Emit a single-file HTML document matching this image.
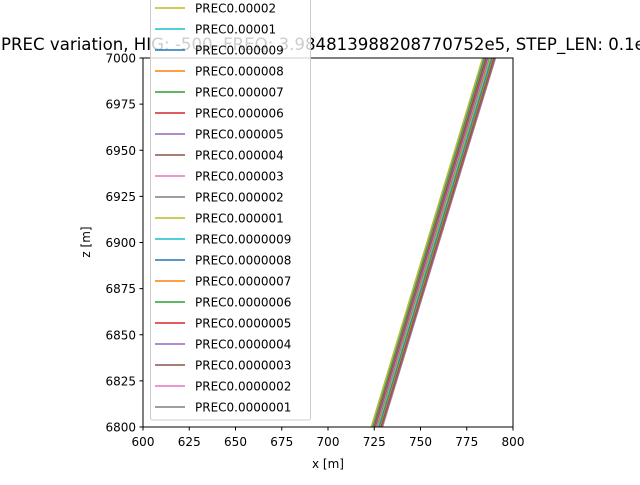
<!DOCTYPE html>
<html><head><meta charset="utf-8"><style>
body{margin:0;background:#fff;width:640px;height:480px;overflow:hidden}
svg{font-family:"DejaVu Sans","Liberation Sans",sans-serif}
</style></head><body>
<svg id="chart" width="640" height="480" viewBox="0 0 640 480" xmlns="http://www.w3.org/2000/svg">
<defs><clipPath id="pc"><rect x="143" y="58" width="370" height="369"/></clipPath></defs>
<text x="1" y="50" font-size="16.6" fill="#000">PREC variation, HIG: -500, FREQ: 3.984813988208770752e5, STEP_LEN: 0.1e</text>
<rect x="143" y="58" width="370" height="369" fill="#fff" stroke="none"/>
<g id="lines" clip-path="url(#pc)"></g>
<rect x="143" y="58" width="370" height="369" fill="none" stroke="#000" stroke-width="1"/>
<g id="xt"></g><g id="yt"></g>
<text x="328" y="468" font-size="12" text-anchor="middle">x [m]</text>
<text x="90" y="242" font-size="12" text-anchor="middle" transform="rotate(-90 90 242)">z [m]</text>
<g id="legend"></g>
</svg>
<script>
const labels=["PREC0.00002","PREC0.00001","PREC0.000009","PREC0.000008","PREC0.000007","PREC0.000006","PREC0.000005","PREC0.000004","PREC0.000003","PREC0.000002","PREC0.000001","PREC0.0000009","PREC0.0000008","PREC0.0000007","PREC0.0000006","PREC0.0000005","PREC0.0000004","PREC0.0000003","PREC0.0000002","PREC0.0000001"];
const xAtBottom=[723.4,723.6,723.8,724.0,724.3,724.6,725.0,725.4,725.8,726.2,726.6,727.0,727.4,727.8,728.1,728.4,728.7,729.0,729.2,729.4];
const xAtTop=[783.6,783.9,784.2,784.5,784.9,785.3,785.7,786.1,786.6,787.0,787.5,788.0,788.4,788.8,789.2,789.5,789.8,790.1,790.3,790.5];
const zRange=[6800,7000];
const xTicks=[600,625,650,675,700,725,750,775,800];
const yTicks=[6800,6825,6850,6875,6900,6925,6950,6975,7000];
const colors=["#bcbd22","#17becf","#1f77b4","#ff7f0e","#2ca02c","#d62728","#9467bd","#8c564b","#e377c2","#7f7f7f"];
const NS="http://www.w3.org/2000/svg";
const X=v=>143+(v-600)/200*370, Y=v=>427-(v-6800)/200*369;
function mk(t,a,p){const e=document.createElementNS(NS,t);for(const k in a)e.setAttribute(k,a[k]);p.appendChild(e);return e;}
const lg=document.getElementById('lines');
for(let i=labels.length-1;i>=0;i--){
 const l=mk('line',{x1:X(xAtBottom[i]),y1:Y(zRange[0]),x2:X(xAtTop[i]),y2:Y(zRange[1]),stroke:colors[i%10],'stroke-width':1.5},lg);
 
 
}
const xt=document.getElementById('xt');
xTicks.forEach(v=>{
 const t=mk('line',{x1:X(v),x2:X(v),y1:427,y2:430.5,stroke:'#000'},xt);
 
 
 const s=mk('text',{x:X(v),y:446,'font-size':12,'text-anchor':'middle'},xt);s.textContent=v;
 
 
});
const yt=document.getElementById('yt');
yTicks.forEach(v=>{
 const t=mk('line',{x1:139.5,x2:143,y1:Y(v),y2:Y(v),stroke:'#000'},yt);
 
 
 const s=mk('text',{x:136,y:Y(v)+4.5,'font-size':12,'text-anchor':'end'},yt);s.textContent=v;
 
 
});
const leg=document.getElementById('legend');
mk('rect',{x:150.5,y:-20,width:160,height:440,rx:2,fill:'#fff','fill-opacity':0.8,stroke:'#ccc'},leg);
labels.forEach((lab,i)=>{
 const cy=8+i*21;
 const l=mk('line',{x1:155,x2:185,y1:cy,y2:cy,stroke:colors[i%10],'stroke-width':1.5},leg);
 
 
 const s=mk('text',{x:195,y:cy+4.5,'font-size':12},leg);s.textContent=lab;
 
 
});
</script>
</body></html>
